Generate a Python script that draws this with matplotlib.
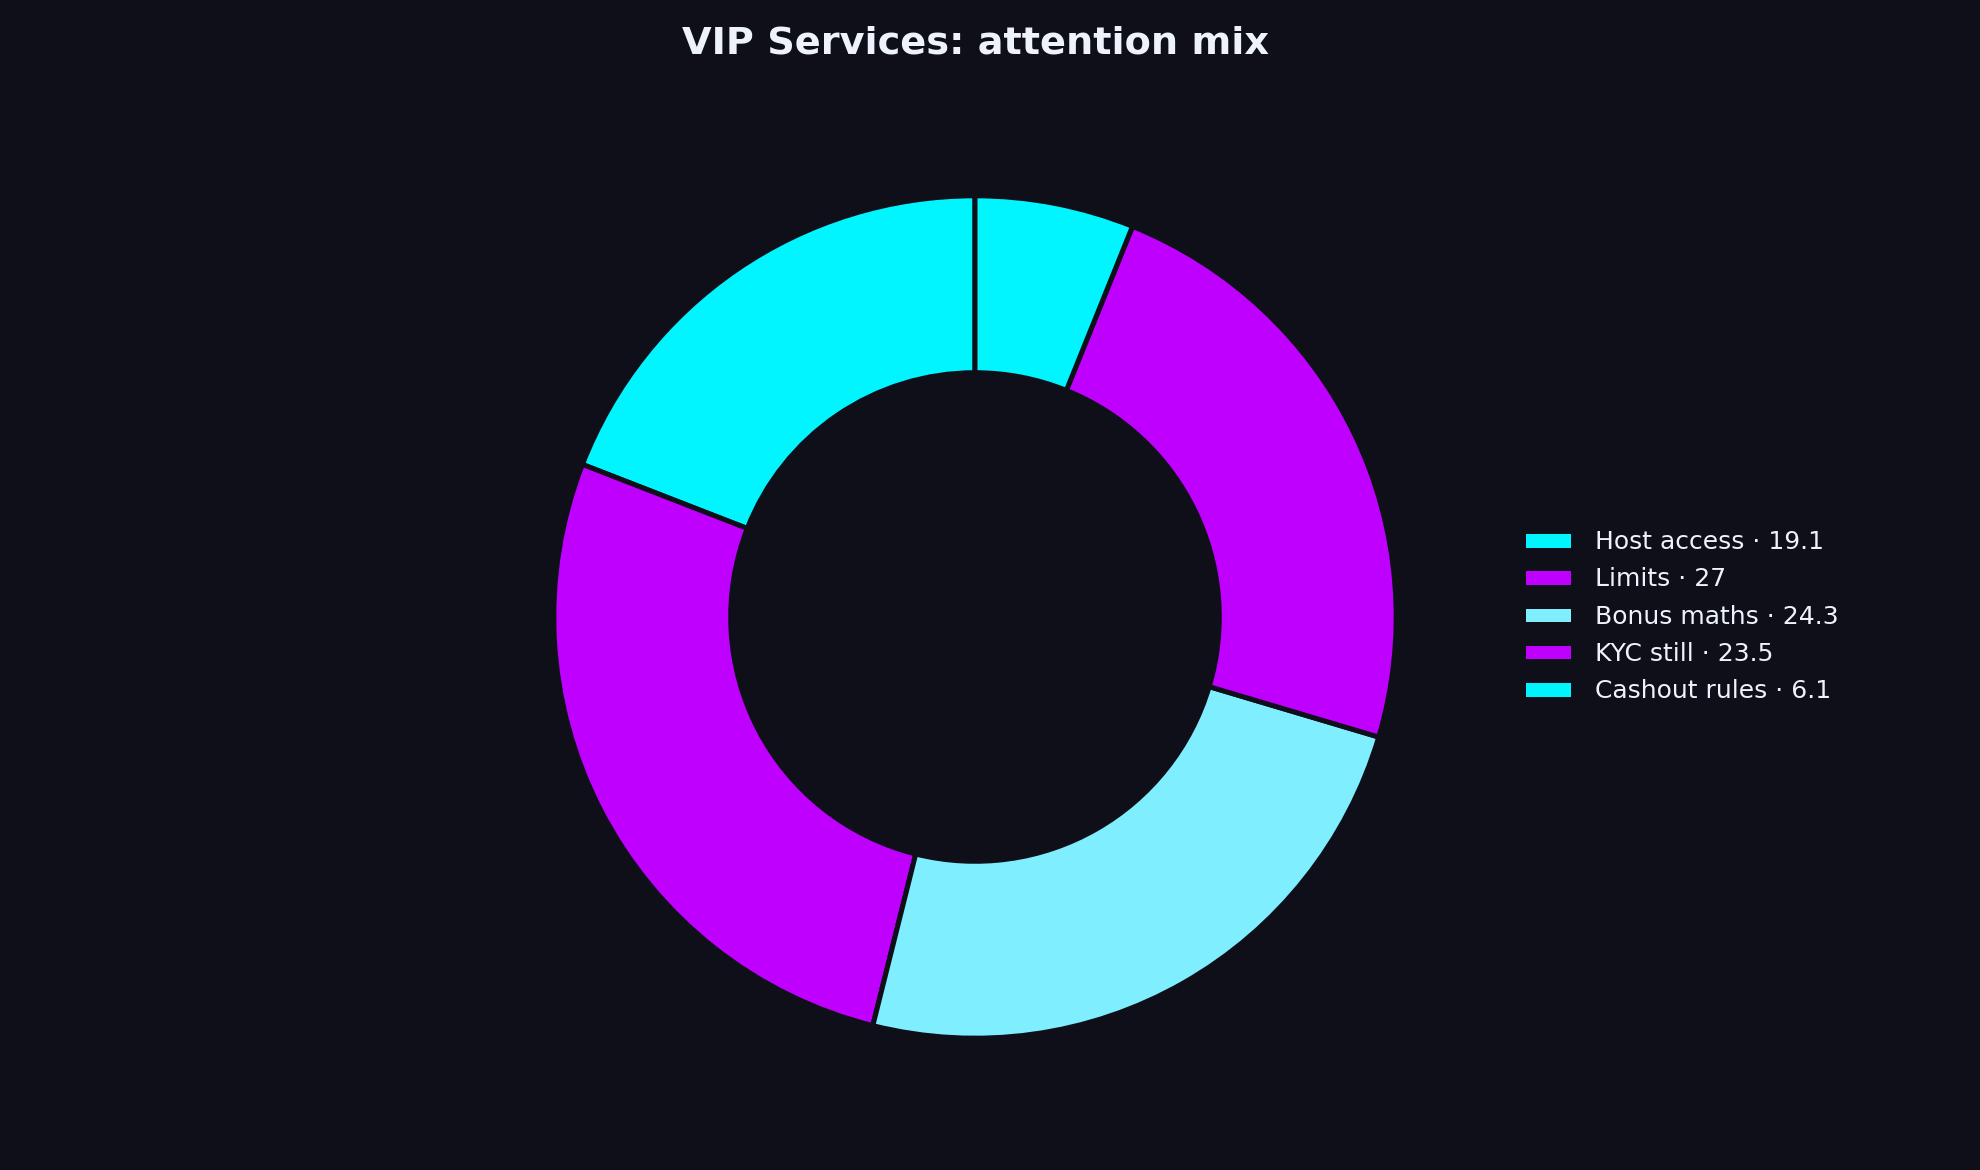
"""
VIP Services: attention mix donut
"""

import matplotlib
matplotlib.use("Agg")
import matplotlib.pyplot as plt

labels = ["Host access", "Limits", "Bonus maths", "KYC still", "Cashout rules"]
values = [19.1, 27, 24.3, 23.5, 6.1]
colors = ["#00F5FF", "#BF00FF", "#7FEEFF", "#BF00FF", "#00F5FF"]

bg = "#0F0F1A"
text_color = "#EEF2FA"

fig = plt.figure(figsize=(19.8, 11.7), dpi=100, facecolor=bg)

# pie axes placed so the ring sits slightly left of centre
size = 1053
ax = fig.add_axes([(975 - size / 2) / 1980, (553 - size / 2) / 1170,
                   size / 1980, size / 1170])
ax.set_facecolor(bg)

wedges, _ = ax.pie(values,
                   colors=colors,
                   startangle=90,
                   counterclock=True,
                   wedgeprops=dict(width=0.42, edgecolor=bg, linewidth=3.6))
ax.set_aspect("equal")

legend_labels = ["{} \u00b7 {}".format(l, v) for l, v in zip(labels, values)]
fig.legend(wedges, legend_labels,
           loc="center left",
           bbox_to_anchor=(1500 / 1980, 0.473),
           frameon=False,
           fontsize=18,
           labelcolor=text_color,
           handlelength=2.0,
           handleheight=0.75,
           handletextpad=0.9,
           labelspacing=0.53)

fig.suptitle("VIP Services: attention mix",
             x=975 / 1980, y=1 - 43 / 1170, va="center",
             color=text_color, fontsize=27.5, fontweight="bold")

fig.savefig("out.png", facecolor=bg)
